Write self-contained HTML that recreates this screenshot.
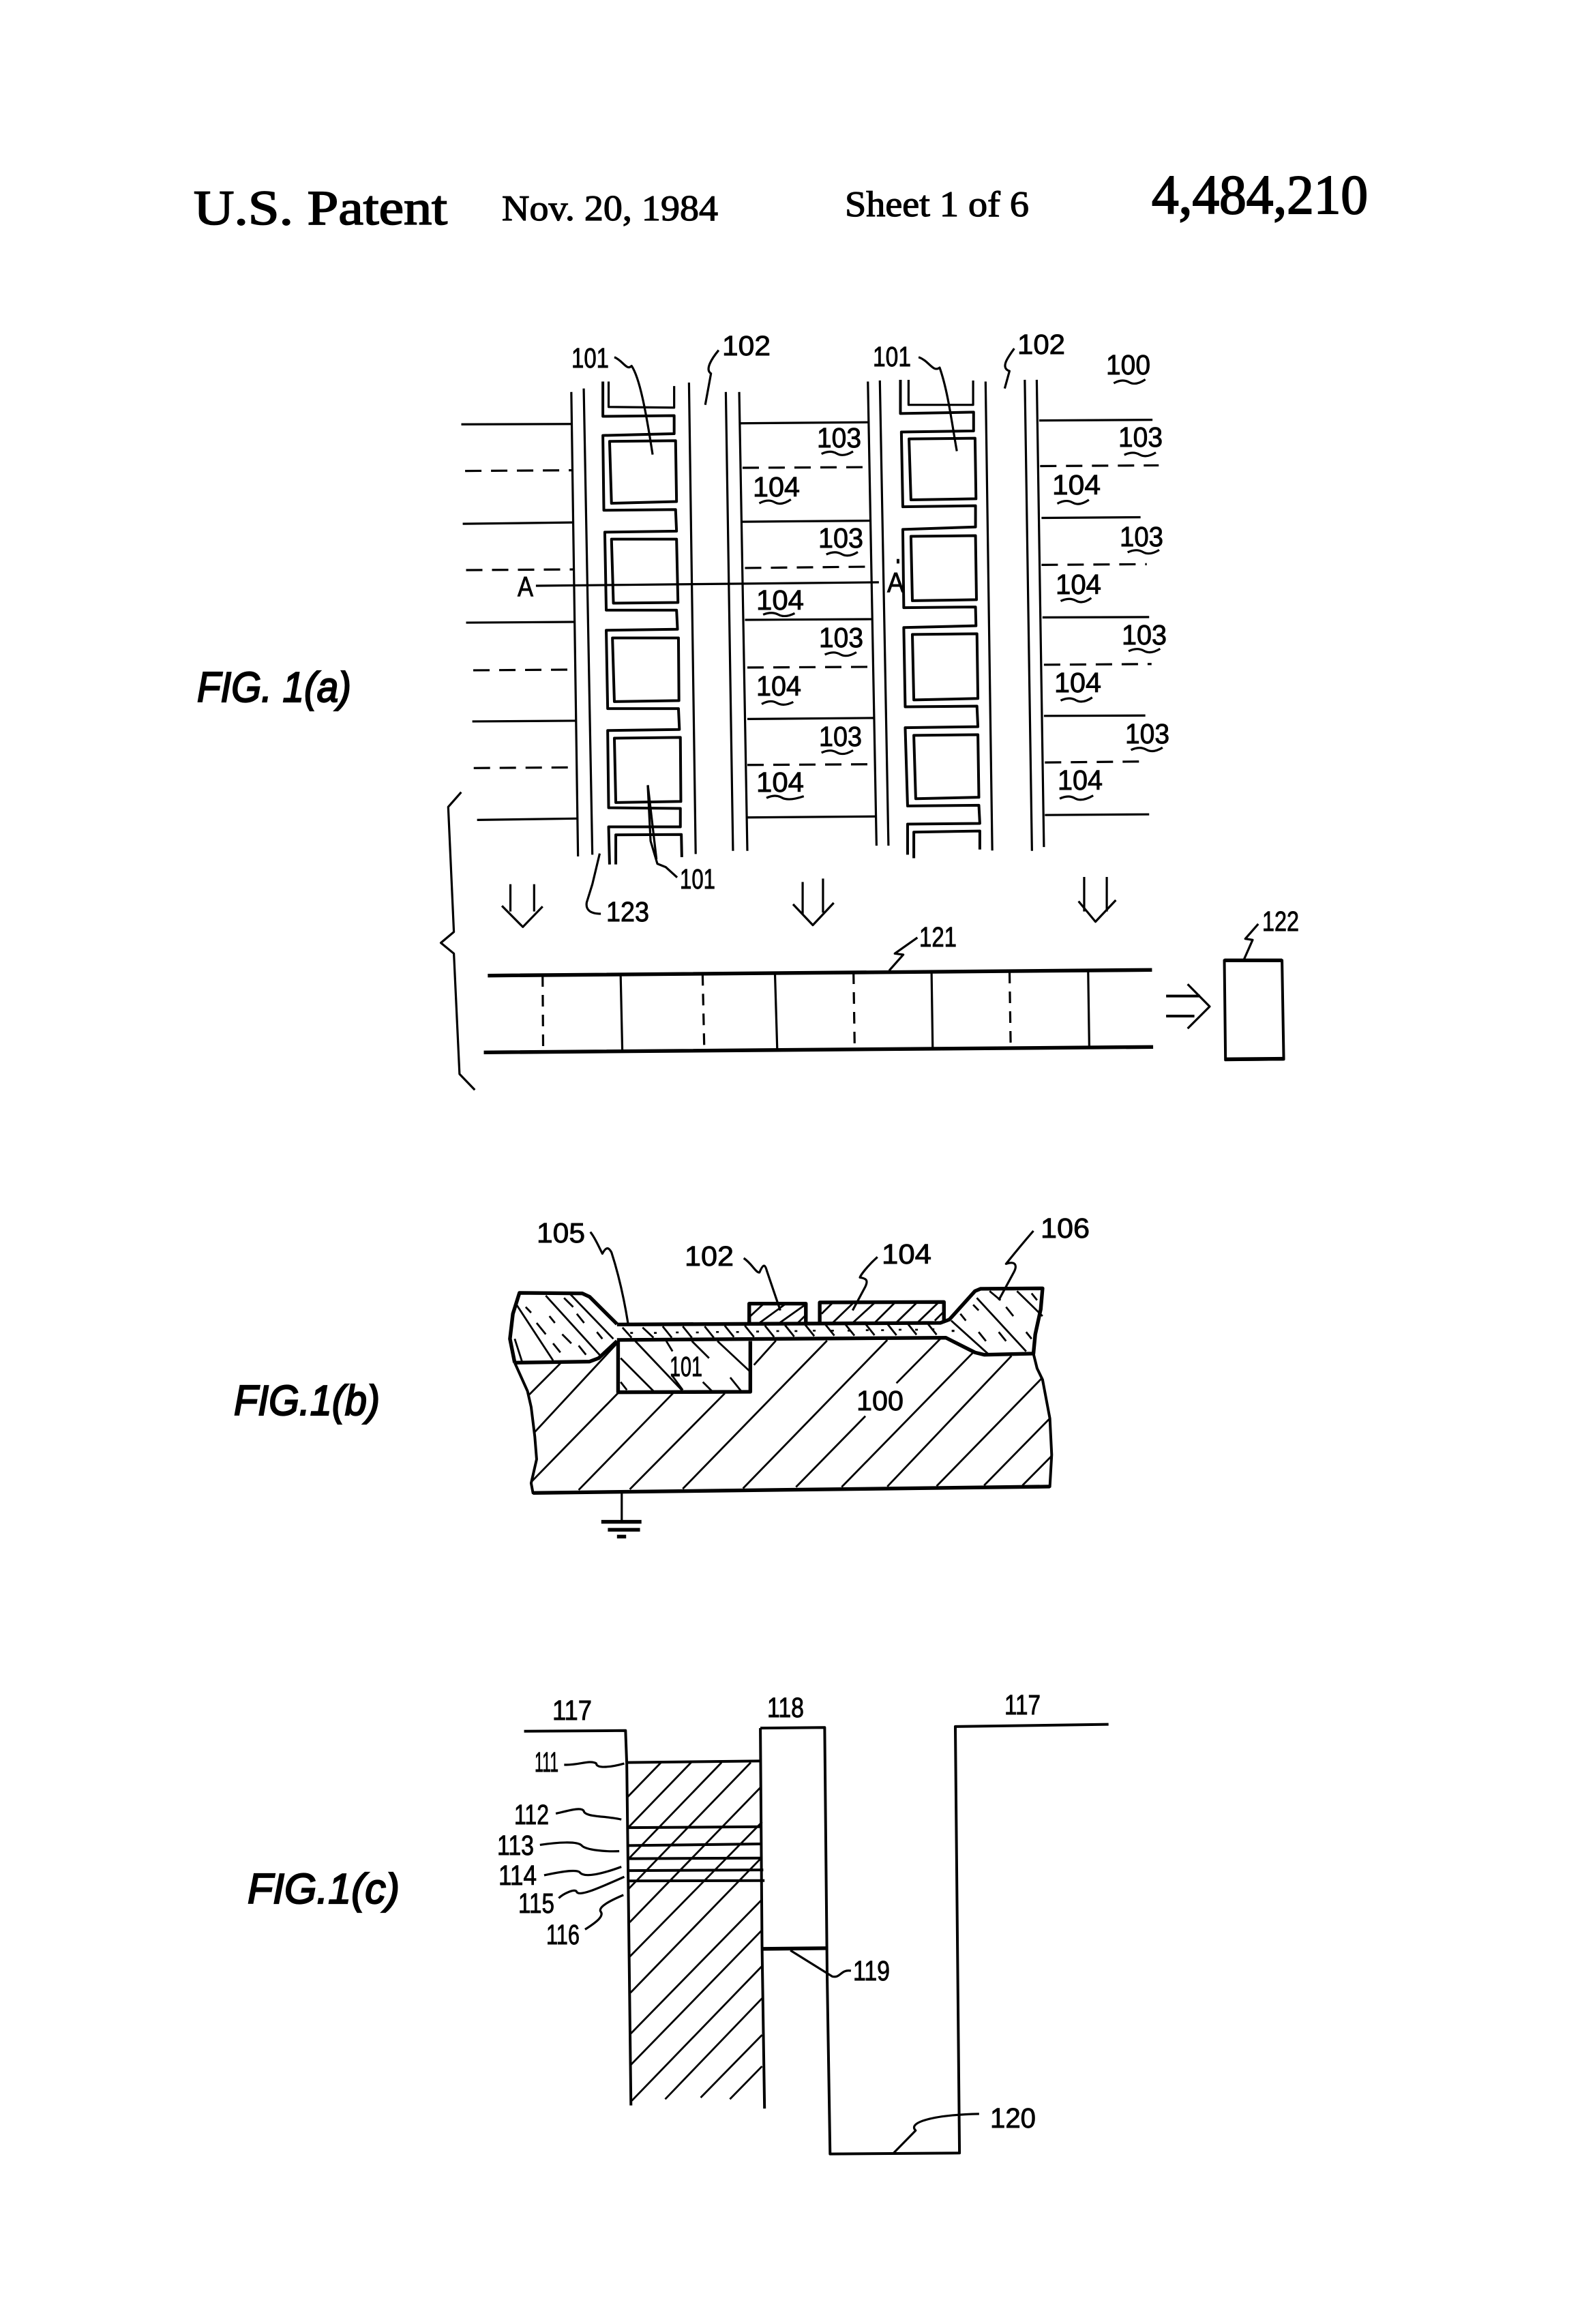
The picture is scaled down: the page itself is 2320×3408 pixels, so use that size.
<!DOCTYPE html>
<html>
<head>
<meta charset="utf-8">
<style>
html,body{margin:0;padding:0;background:#fff;width:2320px;height:3408px;overflow:hidden}
svg{display:block}
path{fill:none;stroke:#000;stroke-width:3.2;vector-effect:non-scaling-stroke;stroke-linejoin:round}
.k{stroke-width:5.4}
.h{stroke-width:2.8}
.m{stroke-width:4}
.d{stroke-dasharray:24 14}
.v{stroke-dasharray:17 12}
text{fill:#000}
.t{font-family:"Liberation Sans",sans-serif;font-size:41px;stroke:#000;stroke-width:.9}
.f{font-family:"Liberation Sans",sans-serif;font-style:italic;font-size:62px;stroke:#000;stroke-width:2.2}
.s{font-family:"Liberation Serif",serif;stroke:#000;stroke-width:1.2}
</style>
</head>
<body>
<svg width="2320" height="3408" viewBox="0 0 2320 3408" xmlns="http://www.w3.org/2000/svg">
<rect width="2320" height="3408" fill="#fff"/>

<!-- Header -->
<text class="s" x="284" y="329" font-size="72" textLength="372" lengthAdjust="spacingAndGlyphs" style="stroke-width:1.8">U.S. Patent</text>
<text class="s" x="736" y="323" font-size="53" textLength="317" lengthAdjust="spacingAndGlyphs">Nov. 20, 1984</text>
<text class="s" x="1239" y="317" font-size="53" textLength="270" lengthAdjust="spacingAndGlyphs">Sheet 1 of 6</text>
<text class="s" x="1689" y="313" font-size="82" textLength="317" lengthAdjust="spacingAndGlyphs" style="stroke-width:2">4,484,210</text>

<text class="f" x="289" y="1029" textLength="226" lengthAdjust="spacingAndGlyphs">FIG. 1(a)</text>
<text class="f" x="343" y="2075" textLength="214" lengthAdjust="spacingAndGlyphs">FIG.1(b)</text>
<text class="f" x="363" y="2791" textLength="223" lengthAdjust="spacingAndGlyphs">FIG.1(c)</text>

<!-- FIG 1(a) upper -->
<g transform="translate(640,460) scale(0.7015,0.5102)">
<path d="M282,225L296,1560M308,215L326,1555M528,198L542,1553M605,225L620,1544M633,225L650,1544M902,195L920,1529M927,192L945,1529M1148,195L1162,1543M1230,190L1245,1544M1255,190L1270,1533"/>
<!-- cell col 1 -->
<path d="M360,195L360,268L497,270L497,208"/>
<path class="m" d="M348,195L348,295L497,293L497,345L348,350L350,565L500,563L502,625L352,628L355,852L502,852L504,907L355,910L358,1135L506,1135L508,1195L358,1198L360,1420L510,1422L510,1475L360,1475L362,1583"/>
<path class="m" d="M362,367L500,365L502,540L366,545Z M366,648L502,648L505,830L370,832Z M368,932L506,932L507,1112L372,1115Z M372,1220L510,1218L511,1402L375,1405Z"/>
<path class="m" d="M375,1583L375,1498L512,1497L513,1562"/>
<!-- cell col 2 -->
<path d="M987,190L987,262L1122,262L1122,192"/>
<path class="m" d="M970,190L970,287L1123,283L1123,337L972,340L975,555L1127,552L1127,613L975,620L977,845L1127,843L1128,897L977,902L980,1130L1130,1128L1132,1187L980,1190L985,1415L1134,1413L1136,1465L985,1467L985,1555"/>
<path class="m" d="M988,360L1126,358L1128,532L992,535Z M992,640L1127,638L1129,822L995,825Z M995,922L1130,920L1132,1106L998,1110Z M998,1212L1132,1210L1134,1390L1002,1394Z"/>
<path class="m" d="M998,1565L998,1490L1136,1487L1136,1540"/>
<!-- horizontal lines -->
<path d="M52,318L282,317M55,604L285,600M62,888L288,886M75,1172L292,1170M85,1455L295,1451M635,315L905,312M640,598L908,595M645,880L912,878M650,1165L915,1162M650,1448L918,1445M1260,307L1497,305M1265,587L1472,585M1267,873L1490,872M1270,1156L1482,1155M1272,1441L1490,1439"/>
<path class="d" d="M60,452L285,450M62,737L288,735M77,1025L290,1023M78,1306L293,1304M640,443L905,441M645,731L912,727M650,1017L915,1015M650,1297L915,1295M1262,438L1510,436M1265,722L1485,720M1270,1009L1495,1007M1272,1290L1482,1287"/>
<!-- section line -->
<path d="M208,782L925,772"/>
<path class="m" d="M965,705L965,718"/>
<!-- leaders -->
<path d="M372,125C390,135 398,165 408,150C425,185 438,280 452,405"/>
<path d="M1008,125C1030,135 1038,170 1052,155C1070,225 1078,320 1088,395"/>
<path d="M590,105C578,125 560,160 574,172L562,262"/>
<path d="M1208,100C1195,125 1178,155 1198,165L1188,215"/>
<path d="M442,1355L460,1568"/>
<!-- squiggles -->
<path d="M1416,200q18,-14 32,-3t34,-8"/>
<path d="M805,403q18,-12 32,-1t34,-6M1438,406q18,-12 32,-1t34,-6M675,545q18,-14 32,-3t34,-8M1298,546q18,-14 32,-3t34,-8M815,692q18,-12 32,-1t34,-6M1445,686q18,-12 32,-1t34,-6M683,865q18,-10 32,0t34,-4M1305,826q18,-12 32,-1t32,-8M812,980q18,-12 32,-1t34,-6M1447,970q18,-12 32,-1t34,-6M680,1122q18,-14 32,-3t34,-3M1305,1112q18,-12 32,-1t34,-8M805,1262q18,-12 32,-1t34,-6M1452,1254q18,-12 32,-1t34,-6M690,1392q18,-12 32,-1t46,-4M1303,1394q18,-12 32,-1t38,-8"/>
</g>

<!-- FIG 1(a) labels -->
<text class="t" x="838" y="539" textLength="55" lengthAdjust="spacingAndGlyphs">101</text>
<text class="t" x="1059" y="521" textLength="71" lengthAdjust="spacingAndGlyphs">102</text>
<text class="t" x="1280" y="537" textLength="56" lengthAdjust="spacingAndGlyphs">101</text>
<text class="t" x="1492" y="519" textLength="70" lengthAdjust="spacingAndGlyphs">102</text>
<text class="t" x="1622" y="549" textLength="65" lengthAdjust="spacingAndGlyphs">100</text>
<text class="t" x="1198" y="656" textLength="65" lengthAdjust="spacingAndGlyphs">103</text>
<text class="t" x="1640" y="655" textLength="65" lengthAdjust="spacingAndGlyphs">103</text>
<text class="t" x="1104" y="728" textLength="69" lengthAdjust="spacingAndGlyphs">104</text>
<text class="t" x="1543" y="725" textLength="71" lengthAdjust="spacingAndGlyphs">104</text>
<text class="t" x="1200" y="803" textLength="66" lengthAdjust="spacingAndGlyphs">103</text>
<text class="t" x="1642" y="801" textLength="64" lengthAdjust="spacingAndGlyphs">103</text>
<text class="t" x="1109" y="894" textLength="70" lengthAdjust="spacingAndGlyphs">104</text>
<text class="t" x="1548" y="871" textLength="67" lengthAdjust="spacingAndGlyphs">104</text>
<text class="t" x="1201" y="949" textLength="65" lengthAdjust="spacingAndGlyphs">103</text>
<text class="t" x="1645" y="945" textLength="66" lengthAdjust="spacingAndGlyphs">103</text>
<text class="t" x="1109" y="1020" textLength="66" lengthAdjust="spacingAndGlyphs">104</text>
<text class="t" x="1546" y="1015" textLength="69" lengthAdjust="spacingAndGlyphs">104</text>
<text class="t" x="1201" y="1094" textLength="63" lengthAdjust="spacingAndGlyphs">103</text>
<text class="t" x="1650" y="1090" textLength="65" lengthAdjust="spacingAndGlyphs">103</text>
<text class="t" x="1109" y="1161" textLength="70" lengthAdjust="spacingAndGlyphs">104</text>
<text class="t" x="1551" y="1158" textLength="66" lengthAdjust="spacingAndGlyphs">104</text>
<text class="t" x="759" y="874" textLength="23" lengthAdjust="spacingAndGlyphs">A</text>
<text class="t" x="1301" y="868" textLength="25" lengthAdjust="spacingAndGlyphs">A</text>
<text class="t" x="997" y="1303" textLength="52" lengthAdjust="spacingAndGlyphs">101</text>
<text class="t" x="889" y="1351" textLength="63" lengthAdjust="spacingAndGlyphs">123</text>
<text class="t" x="1348" y="1388" textLength="55" lengthAdjust="spacingAndGlyphs">121</text>
<text class="t" x="1851" y="1365" textLength="54" lengthAdjust="spacingAndGlyphs">122</text>

<!-- FIG 1(a) lower -->
<g transform="translate(620,1140) scale(0.829,0.3333)">
<path d="M68,65L45,130L55,680L32,728L55,775L65,1305L92,1375"/>
<path d="M398,35L403,280L415,380L430,395L450,440"/>
<path d="M313,335L300,470L290,550C288,580 295,600 315,600"/>
<path d="M155,470L155,590M197,470L197,590M140,565L177,658L212,568"/>
<path d="M672,460L672,600M708,445L708,595M655,558L690,650L727,552"/>
<path d="M1170,438L1170,590M1210,438L1210,590M1160,545L1190,635L1226,540"/>
<path class="k" d="M115,872L1290,847M108,1210L1292,1186"/>
<path d="M350,868L353,1205M623,862L627,1195M900,855L902,1190M1177,850L1179,1185"/>
<path class="v" d="M212,870L213,1210M495,865L498,1198M762,858L764,1192M1038,855L1040,1185"/>
<path class="m" d="M1315,962L1375,962M1315,1050L1365,1050"/>
<path d="M1353,910L1392,1008L1353,1105"/>
<path class="m" d="M1418,805L1520,805L1523,1240L1420,1243Z"/>
<path class="k" d="M1418,805L1520,805M1420,1240L1523,1238"/>
<path d="M825,850L850,780L835,775L875,705M1452,805L1468,715L1455,710L1478,645"/>
</g>

<!-- FIG 1(b) -->
<g transform="translate(720,1740) scale(0.5357,0.3333)">
<!-- substrate hatch -->
<path class="h" d="M105,915L190,778M120,1080L345,690M110,1300L350,905M240,1335L498,910M380,1332L640,910M525,1330L920,678M690,1328L1085,675M835,1322L1025,1010M1110,865L1230,670M960,1322L1320,730M1085,1320L1425,745M1220,1318L1510,840M1350,1315L1530,1020M1455,1315L1535,1185M720,785L780,678"/>
<!-- well hatch -->
<path class="h" d="M355,755L445,900M395,680L525,900M480,680L497,725M550,680L597,755M620,680L710,815M495,830L525,895M580,860L605,900M655,840L685,900M355,860L372,895"/>
<!-- left oxide hatch -->
<path class="h" d="M70,520L170,765M150,480L300,745M215,470L335,670M65,670L85,770"/>
<path class="h" d="M95,530L110,555M125,600L150,650M160,570L175,600M195,650L220,690M170,690L190,730M235,560L255,600M290,640L305,670M240,700L260,740M280,500L300,530M200,490L225,530"/>
<!-- right oxide hatch -->
<path class="h" d="M1260,590L1360,735M1330,490L1465,725M1365,460L1395,500M1440,460L1510,570"/>
<path class="h" d="M1285,560L1300,590M1320,520L1335,545M1335,640L1355,680M1410,530L1430,570M1465,640L1480,670M1390,640L1410,680M1480,470L1495,500"/>
<!-- gate ox hatch -->
<path class="h" d="M360,620L385,665M415,620L445,665M470,615L495,665M525,615L550,665M585,615L610,665M640,612L665,662M695,612L720,662M750,612L775,662M805,610L830,660M860,608L885,658M915,606L940,656M970,606L995,656M1025,604L1050,654M1085,604L1110,654M1140,602L1165,652M1195,602L1220,652"/>
<path class="m" d="M385,640L385,648M450,640L450,648M510,638L510,646M565,638L565,646M620,636L620,644M675,636L675,644M730,634L730,642M785,632L785,640M835,632L835,640M885,630L885,638M935,630L935,638M980,630L980,638M1030,628L1030,636M1072,628L1072,636M1120,626L1120,634M1165,626L1165,634M1210,624L1210,632M1265,630L1265,640"/>
<!-- 102 / 104 hatch -->
<path class="h" d="M710,570L745,518M735,600L805,518M790,600L862,518M840,600L862,565M905,560L935,512M935,600L990,515M990,600L1050,512M1050,600L1105,512M1110,598L1165,512M1170,595L1225,510M1215,590L1240,550"/>
<!-- outlines -->
<path class="k" d="M65,775L52,670L60,560L78,468L250,470L270,485L345,605"/>
<path class="k" d="M65,775L270,770L295,755L345,680"/>
<path class="m" d="M65,775L100,900L110,970L120,1100L125,1200L110,1305L115,1348L1530,1320L1535,1180L1530,1020L1510,850L1495,800L1485,735"/>
<path class="k" d="M115,1348L1530,1320"/>
<path class="k" d="M345,607L1230,600L1255,585L1325,460L1340,450L1510,448L1505,540L1490,650L1485,735L1350,740L1325,730L1245,665L345,675"/>
<path class="k" d="M348,680L348,905L710,903L710,680"/>
<path class="k" d="M707,600L707,515L862,515L862,600M900,600L900,510L1240,508L1240,590"/>
<path d="M272,200C285,225 295,265 305,295C315,265 322,265 330,290C350,390 365,500 375,600"/>
<path d="M692,315C715,340 725,380 735,378C745,340 750,340 755,370L792,545"/>
<path d="M1058,310C1030,350 1012,390 1010,400C1030,405 1032,415 1025,440L990,545"/>
<path d="M1485,195C1450,260 1420,320 1410,340C1438,325 1440,350 1432,375L1390,500"/>
<path d="M358,1345L358,1470"/>
<path class="k" d="M302,1475L412,1475M320,1510L408,1510M345,1540L370,1540"/>
</g>
<text class="t" x="787" y="1822" textLength="71" lengthAdjust="spacingAndGlyphs">105</text>
<text class="t" x="1004" y="1856" textLength="72" lengthAdjust="spacingAndGlyphs">102</text>
<text class="t" x="1293" y="1853" textLength="73" lengthAdjust="spacingAndGlyphs">104</text>
<text class="t" x="1526" y="1815" textLength="72" lengthAdjust="spacingAndGlyphs">106</text>
<text class="t" x="1256" y="2068" textLength="69" lengthAdjust="spacingAndGlyphs">100</text>
<text class="t" x="982" y="2018" textLength="48" lengthAdjust="spacingAndGlyphs">101</text>

<!-- FIG 1(c) -->
<g transform="translate(700,2440) scale(0.6122,0.4592)">
<path class="m" d="M112,215L355,213L358,320L368,1410"/>
<path class="m" d="M678,205L832,203L838,1000L845,1565L1155,1562L1145,200L1512,193"/>
<path class="m" d="M678,205L682,900L688,1420"/>
<path class="k" d="M685,910L835,908"/>
<path class="m" d="M358,315L678,310"/>
<path class="m" d="M360,523L680,520M362,580L680,575M362,622L682,620M362,660L685,658M362,693L688,692"/>
<path class="h" d="M360,425L440,315M362,522L512,315M362,623L585,315M362,719L655,315M365,825L678,395M365,935L682,505M367,1050L680,620M368,1180L680,755M368,1280L682,850M370,1395L682,965M450,1390L682,1068M535,1385L682,1185M605,1390L682,1285"/>
<path d="M208,322C240,325 270,305 285,318C285,335 320,330 352,318"/>
<path d="M188,478C215,470 250,455 255,470C258,490 310,485 345,497"/>
<path d="M150,578C190,570 240,565 250,580C260,595 310,600 340,598"/>
<path d="M160,675C195,665 235,655 245,665C255,685 300,670 345,648"/>
<path d="M195,748C205,735 235,715 238,728C245,745 300,710 352,680"/>
<path d="M258,848C285,825 305,805 295,790C290,775 320,755 350,738"/>
<path d="M750,915L850,998C870,1005 870,975 895,980"/>
<path d="M995,1565L1050,1490C1030,1465 1090,1440 1202,1437"/>
</g>
<text class="t" x="810" y="2522" textLength="58" lengthAdjust="spacingAndGlyphs">117</text>
<text class="t" x="1125" y="2518" textLength="54" lengthAdjust="spacingAndGlyphs">118</text>
<text class="t" x="1473" y="2514" textLength="53" lengthAdjust="spacingAndGlyphs">117</text>
<text class="t" x="784" y="2598" textLength="35" lengthAdjust="spacingAndGlyphs">111</text>
<text class="t" x="754" y="2675" textLength="51" lengthAdjust="spacingAndGlyphs">112</text>
<text class="t" x="729" y="2720" textLength="54" lengthAdjust="spacingAndGlyphs">113</text>
<text class="t" x="731" y="2764" textLength="56" lengthAdjust="spacingAndGlyphs">114</text>
<text class="t" x="760" y="2805" textLength="53" lengthAdjust="spacingAndGlyphs">115</text>
<text class="t" x="801" y="2851" textLength="49" lengthAdjust="spacingAndGlyphs">116</text>
<text class="t" x="1251" y="2904" textLength="54" lengthAdjust="spacingAndGlyphs">119</text>
<text class="t" x="1452" y="3120" textLength="67" lengthAdjust="spacingAndGlyphs">120</text>
</svg>
</body>
</html>
